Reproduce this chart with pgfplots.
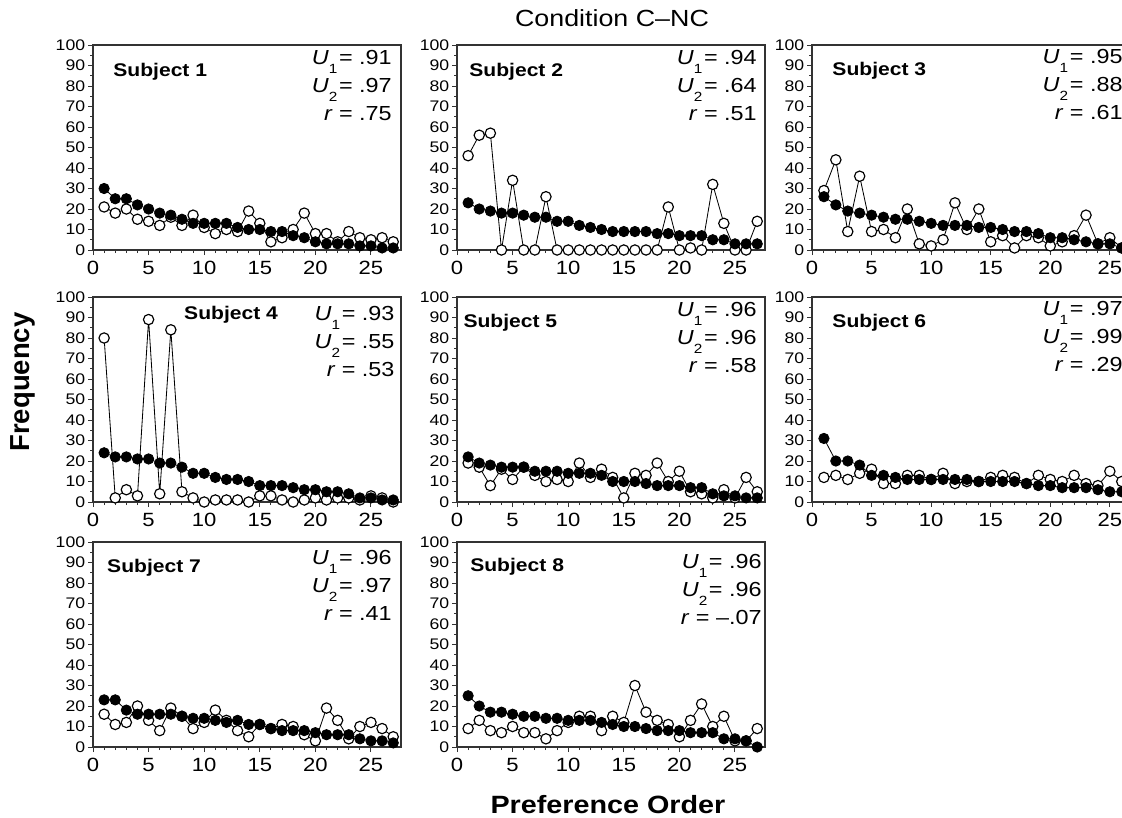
\documentclass[border=0pt]{standalone}
\usepackage{pgfplots}
\pgfplotsset{compat=1.18}
\usepackage{pgfplotstable}
\usepackage{fontspec}
\setmainfont[FakeStretch=1.15]{Liberation Sans}
\newfontfamily\plainsans{Liberation Sans}

\pgfplotstableread{
x f o
1 30 21
2 25 18
3 25 20
4 22 15
5 20 14
6 18 12
7 17 16
8 15 12
9 13 17
10 13 11
11 13 8
12 13 10
13 11 9
14 10 19
15 10 13
16 9 4
17 9 6
18 7 10
19 6 18
20 4 8
21 3 8
22 3 4
23 3 9
24 2 6
25 2 5
26 1 6
27 1 4
}\sA
\pgfplotstableread{
x f o
1 23 46
2 20 56
3 19 57
4 18 0
5 18 34
6 17 0
7 16 0
8 16 26
9 14 0
10 14 0
11 12 0
12 11 0
13 10 0
14 9 0
15 9 0
16 9 0
17 9 0
18 8 0
19 8 21
20 7 0
21 7 1
22 7 0
23 5 32
24 5 13
25 3 0
26 3 0
27 3 14
}\sB
\pgfplotstableread{
x f o
1 26 29
2 22 44
3 19 9
4 18 36
5 17 9
6 16 10
7 15 6
8 15 20
9 14 3
10 13 2
11 12 5
12 12 23
13 12 10
14 11 20
15 11 4
16 10 7
17 9 1
18 9 7
19 8 6
20 6 2
21 6 4
22 5 7
23 4 17
24 3 3
25 3 6
26 1 1
27 2 8
}\sC
\pgfplotstableread{
x f o
1 24 80
2 22 2
3 22 6
4 21 3
5 21 89
6 19 4
7 19 84
8 17 5
9 14 2
10 14 0
11 12 1
12 11 1
13 11 1
14 10 0
15 8 3
16 8 3
17 8 1
18 7 0
19 6 1
20 6 2
21 5 1
22 5 2
23 4 2
24 2 1
25 2 3
26 1 2
27 1 0
}\sD
\pgfplotstableread{
x f o
1 22 19
2 19 17
3 18 8
4 17 16
5 17 11
6 17 17
7 15 13
8 15 10
9 15 11
10 14 10
11 14 19
12 14 12
13 13 16
14 10 12
15 10 2
16 10 14
17 9 13
18 8 19
19 8 10
20 8 15
21 7 5
22 7 4
23 4 2
24 3 6
25 3 2
26 2 12
27 2 5
}\sE
\pgfplotstableread{
x f o
1 31 12
2 20 13
3 20 11
4 18 14
5 13 16
6 13 9
7 12 9
8 11 13
9 11 13
10 11 11
11 11 14
12 11 9
13 11 10
14 10 10
15 10 12
16 10 13
17 10 12
18 9 9
19 8 13
20 8 11
21 7 10
22 7 13
23 7 9
24 6 8
25 5 15
26 5 10
27 5 8
}\sF
\pgfplotstableread{
x f o
1 23 16
2 23 11
3 18 12
4 16 20
5 16 13
6 16 8
7 16 19
8 15 15
9 14 9
10 14 12
11 13 18
12 12 13
13 13 8
14 11 5
15 11 11
16 9 9
17 8 11
18 8 10
19 8 6
20 7 3
21 6 19
22 6 13
23 6 4
24 4 10
25 3 12
26 3 9
27 2 5
}\sG
\pgfplotstableread{
x f o
1 25 9
2 20 13
3 17 8
4 17 7
5 16 10
6 15 7
7 15 7
8 14 4
9 14 8
10 13 12
11 13 15
12 13 15
13 12 8
14 11 15
15 10 12
16 10 30
17 9 17
18 8 13
19 8 11
20 8 5
21 7 13
22 7 21
23 7 10
24 4 15
25 4 3
26 3 3
27 0 9
}\sH

\pgfplotsset{
  panel/.style={
    scale only axis, width=184.8pt, height=123pt,
    xmin=0, xmax=27.7, ymin=0, ymax=100,
    xtick={0,5,...,25}, minor x tick num=4,
    ytick={0,10,...,100}, minor y tick num=1,
    tick align=outside, tick pos=left,
    major tick length=3pt, minor tick length=1.8pt,
    axis line style={black!80, line width=0.7pt},
    every tick/.style={black!80, line width=0.6pt},
    xticklabel style={font=\fontsize{11.5}{11.5}\selectfont},
    yticklabel style={font=\fontsize{9.2}{9.2}\selectfont, inner xsep=1.5pt},
    /pgf/number format/assume math mode=true,
    anchor=south west, clip=false,
  },
  wide/.style={width=198pt},
  open/.style={black, line width=0.5pt, mark=*, mark size=3.1pt,
    mark options={fill=white, draw=black, line width=0.7pt}},
  filled/.style={black, line width=0.5pt, mark=*, mark size=3.1pt,
    mark options={fill=black, draw=black}},
}
\newcommand\sub[1]{\raisebox{-0.85ex}{\fontsize{8}{8}\selectfont #1}\kern0.08em}
\newcommand\stats[5]{\node[anchor=north east, align=right, inner sep=0pt,
  font=\fontsize{12.2}{16.8}\selectfont] at (rel axis cs:#1,#2)
  {\textit{U}\sub{1} = #3\\\textit{U}\sub{2} = #4\\\textit{r} = #5};}
\newcommand\subj[3]{\node[anchor=west, inner sep=0pt,
  font=\bfseries\fontsize{11}{12}\selectfont] at (rel axis cs:#1,#2) {Subject #3};}

\begin{document}
\begin{tikzpicture}
\useasboundingbox (0,0) rectangle (673.2pt,-490.2pt);
\begin{scope}
\clip (0,0) rectangle (673.2pt,-490.2pt);

\begin{axis}[panel, at={(55.8pt,-150pt)}]
\addplot[open] table[x=x,y=o] {\sA};
\addplot[filled] table[x=x,y=f] {\sA};
\subj{0.065}{0.87}{1}
\stats{0.971}{0.975}{.91}{.97}{.75}
\end{axis}

\begin{axis}[panel, at={(274.2pt,-150pt)}]
\addplot[open] table[x=x,y=o] {\sB};
\addplot[filled] table[x=x,y=f] {\sB};
\subj{0.039}{0.87}{2}
\stats{0.974}{0.975}{.94}{.64}{.51}
\end{axis}

\begin{axis}[panel, wide, at={(487.2pt,-150pt)}]
\addplot[open] table[x=x,y=o] {\sC};
\addplot[filled] table[x=x,y=f] {\sC};
\subj{0.061}{0.873}{3}
\stats{0.942}{0.98}{.95}{.88}{.61}
\end{axis}

\begin{axis}[panel, at={(55.8pt,-301.2pt)}]
\addplot[open] table[x=x,y=o] {\sD};
\addplot[filled] table[x=x,y=f] {\sD};
\subj{0.295}{0.914}{4}
\stats{0.98}{0.955}{.93}{.55}{.53}
\end{axis}

\begin{axis}[panel, at={(274.2pt,-301.2pt)}]
\addplot[open] table[x=x,y=o] {\sE};
\addplot[filled] table[x=x,y=f] {\sE};
\subj{0.02}{0.873}{5}
\stats{0.974}{0.975}{.96}{.96}{.58}
\end{axis}

\begin{axis}[panel, wide, at={(487.2pt,-301.2pt)}]
\addplot[open] table[x=x,y=o] {\sF};
\addplot[filled] table[x=x,y=f] {\sF};
\subj{0.061}{0.873}{6}
\stats{0.942}{0.98}{.97}{.99}{.29}
\end{axis}

\begin{axis}[panel, at={(55.8pt,-448.2pt)}]
\addplot[open] table[x=x,y=o] {\sG};
\addplot[filled] table[x=x,y=f] {\sG};
\subj{0.045}{0.875}{7}
\stats{0.971}{0.96}{.96}{.97}{.41}
\end{axis}

\begin{axis}[panel, at={(274.2pt,-448.2pt)}]
\addplot[open] table[x=x,y=o] {\sH};
\addplot[filled] table[x=x,y=f] {\sH};
\subj{0.042}{0.878}{8}
\stats{0.99}{0.94}{.96}{.96}{--.07}
\end{axis}

\node[font=\fontsize{14}{14}\selectfont] at (367.2pt,-10.8pt) {Condition C--NC};
\node[font=\plainsans\bfseries\fontsize{16.5}{16.5}\selectfont, rotate=90] at (13.5pt,-229.2pt) {Frequency};
\node[font=\bfseries\fontsize{15}{15}\selectfont] at (364.8pt,-483pt) {Preference Order};
\end{scope}
\end{tikzpicture}
\end{document}
